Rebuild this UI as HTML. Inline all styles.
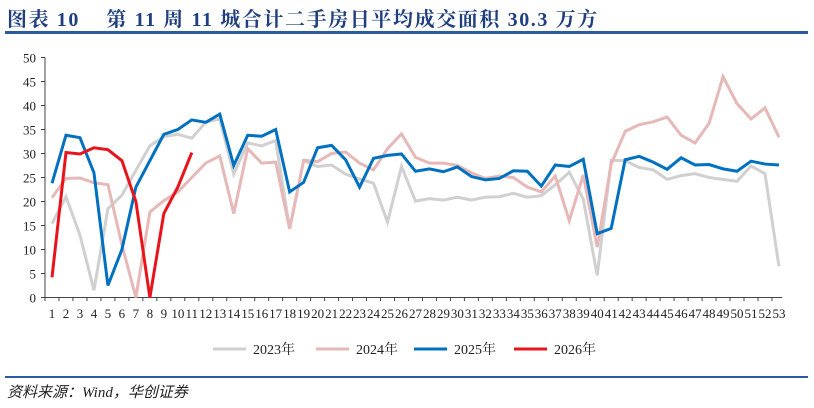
<!DOCTYPE html>
<html><head><meta charset="utf-8"><style>
body{margin:0;width:814px;height:408px;background:#fff;overflow:hidden;font-family:"Liberation Serif","Noto Serif CJK SC",serif;}
#title{position:absolute;left:7px;top:3px;font-size:20px;letter-spacing:1.6px;font-weight:bold;color:#1f3f7f;white-space:nowrap;}
#topline{position:absolute;left:5px;top:31px;width:803px;height:3px;background:#2a5aa0;}
#botline{position:absolute;left:5px;top:376px;width:803px;height:2px;background:#2a5aa0;}
#source{position:absolute;left:7px;top:381px;font-size:15px;font-style:italic;color:#222;font-family:"Liberation Serif","Noto Sans CJK SC",serif;}
svg{position:absolute;left:0;top:0;}
</style></head><body>
<div id="title">图表 10&nbsp;&nbsp;&nbsp; 第 11 周 11 城合计二手房日平均成交面积 30.3 万方</div>
<div id="topline"></div>
<svg id="chart" width="814" height="408"></svg>
<div id="botline"></div>
<div id="source">资料来源：Wind，华创证券</div>
<script>
const weeks=[];for(let i=1;i<=53;i++)weeks.push(i);
const yTicks=[0,5,10,15,20,25,30,35,40,45,50];
const s2023=[15.4,21,13,1.5,18.5,21.3,26.5,31.6,33.5,34,33.2,36.5,37.2,25.7,32.2,31.6,32.7,14.3,28.5,27.3,27.6,25.7,24.7,23.8,15.7,27.3,20.1,20.6,20.3,20.9,20.3,20.9,21,21.7,20.9,21.2,23.5,26.1,20.5,4.6,28.6,28.5,27.1,26.6,24.6,25.4,25.8,25,24.6,24.2,27.4,25.8,6.5];
const s2024=[20.8,24.8,24.9,23.9,23.5,11,0,17.8,20.2,22,25,28,29.5,17.5,31,28,28.2,14.3,28.6,28.3,30,30.3,28,26.6,31,34.1,29.2,28,28,27.5,26,24.8,25.3,25,23,22,25.3,16,25.5,10.5,27.8,34.6,36,36.6,37.6,33.8,32.2,36.3,46,40.4,37.2,39.5,33.4];
const s2025=[23.8,33.8,33.3,26,2.5,10,23,28.5,34,35,37,36.5,38.2,27.5,33.8,33.6,35,22,24,31.2,31.7,28.7,23,29,29.6,29.9,26.3,26.8,26.2,27.2,25.2,24.5,24.8,26.4,26.3,23.2,27.6,27.3,28.8,13.3,14.4,28.7,29.4,28.2,26.7,29.1,27.6,27.7,26.8,26.3,28.4,27.8,27.6];
const s2026=[4.2,30.2,29.9,31.2,30.8,28.5,20,0,17.5,23,30.2];
const seriesNames=["2023年","2024年","2025年","2026年"];
const colors=["#d0d0d0","#e6b8b7","#0070c0","#e8141c"];
const all=[s2023,s2024,s2025,s2026];
const NS="http://www.w3.org/2000/svg";
const svg=document.getElementById('chart');
const x=w=>52+(w-1)*13.98;
const y=v=>297.5-v*4.8;
function mk(t,a){const e=document.createElementNS(NS,t);for(const k in a)e.setAttribute(k,a[k]);svg.appendChild(e);return e;}
let ax=mk('line',{x1:45,y1:297.5,x2:782,y2:297.5,stroke:'#444','stroke-width':1});


let ay=mk('line',{x1:45,y1:57.5,x2:45,y2:297.5,stroke:'#444','stroke-width':1});


yTicks.forEach(t=>{
 mk('line',{x1:41,y1:y(t),x2:45,y2:y(t),stroke:'#444'});
 const tx=mk('text',{x:36,y:y(t)+5,'text-anchor':'end','font-size':13,fill:'#222'});
 tx.textContent=t;
 
 
});
weeks.forEach(w=>{
 mk('line',{x1:x(w)-7,y1:297.5,x2:x(w)-7,y2:301,stroke:'#444'});
 const tx=mk('text',{x:x(w),y:318,'text-anchor':'middle','font-size':13,fill:'#222'});
 tx.textContent=w;
 
 
});
all.forEach((s,i)=>{
 const p=mk('polyline',{points:s.map((v,j)=>x(j+1)+','+y(v)).join(' '),fill:'none',stroke:colors[i],'stroke-width':3,'stroke-linejoin':'miter'});
 
 
});
const lx=[213,316,414,514];
seriesNames.forEach((n,i)=>{
 const l=mk('line',{x1:lx[i],y1:349,x2:lx[i]+33,y2:349,stroke:colors[i],'stroke-width':3});
 
 
 const t=mk('text',{x:lx[i]+40,y:354,'font-size':14,fill:'#222','font-family':'"Liberation Serif","Noto Serif CJK SC",serif'});
 t.textContent=n;
 
 
});
</script>
</body></html>
